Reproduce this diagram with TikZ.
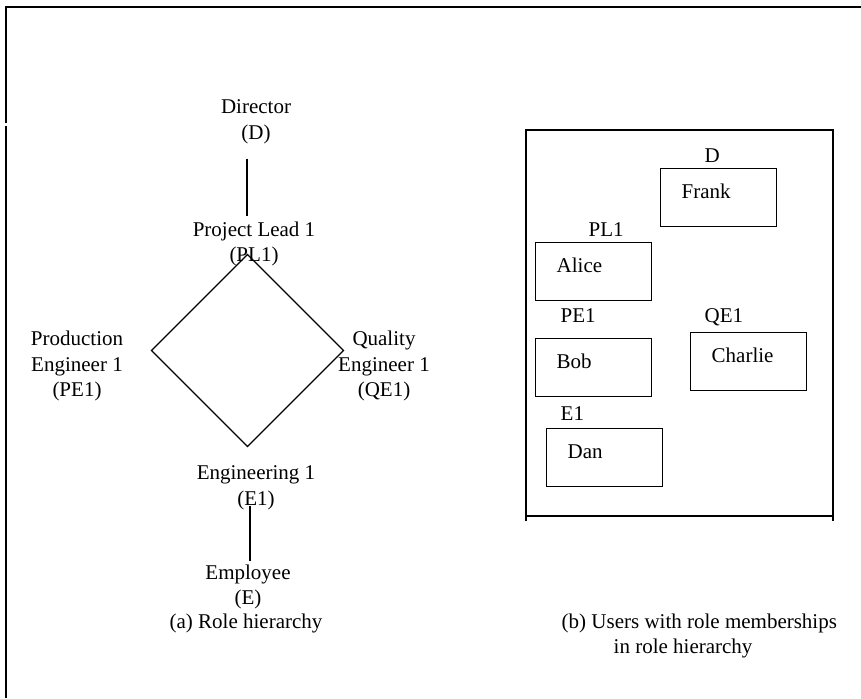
\documentclass[tikz,border=0pt]{standalone}
\usepackage{fontspec}
\setmainfont{Liberation Serif}
\tikzset{
  every node/.style={inner sep=0pt, align=center},
  ubox/.style={draw, line width=1.4pt, anchor=north west, inner xsep=21pt, inner ysep=0pt,
    text width=74pt, minimum height=58pt, text height=14pt, text depth=12pt, align=left},
  role/.style={anchor=base west}
}
\begin{document}
\begin{tikzpicture}[x=1pt, y=-1pt, line width=1.4pt, font=\fontsize{21pt}{25.5pt}\selectfont]
    \useasboundingbox (0,0) rectangle (861,698);
    % outer frame
    \draw[line width=1.8pt] (6,698) -- (6,126);
    \draw[line width=1.8pt] (6,123) -- (6,7) -- (861,7);

    % (a) role hierarchy
    \node (d) at (256,122) {Director\\(D)};
    \node (pl1) at (254,244) {Project Lead 1\\(PL1)};
    \node (pe1) at (77,366) {Production\\Engineer 1\\(PE1)};
    \node (qe1) at (384,366) {Quality\\Engineer 1\\(QE1)};
    \node (e1) at (256,488) {Engineering 1\\(E1)};
    \node (e) at (248,587) {Employee\\(E)};
    \node (capa) at (246,623) {(a) Role hierarchy};

    \draw ([xshift=-9pt,yshift=-14pt]d.south) -- ([xshift=-7pt,yshift=5pt]pl1.north);
    \begin{scope}[shift={(247.5,350.5)}]
        \foreach \i in {1,...,4}
            \coordinate (v\i) at (90*\i:96);
    \end{scope}
    \draw (v1)--(v2)--(v3)--(v4)--cycle;
    \draw ([xshift=-6pt,yshift=5pt]e1.south) -- ([xshift=2pt,yshift=3pt]e.north);

    % (b) users with role memberships
    \draw (526,521) -- (526,130) -- (833,130) -- (833,521);
    \draw (526,516) -- (833,516);
    \foreach \nm/\rl/\bx/\by/\lx/\ly in {Frank/D/660/168/704/162, Alice/PL1/535/242/588/236,
        Bob/PE1/535/338/560/322, Charlie/QE1/690/332/704/322, Dan/E1/546/428/560/420} {
        \node[ubox] (\nm) at (\bx,\by) {\nm};
        \node[role] (r\nm) at (\lx,\ly) {\rl};
    }
    \node[anchor=west, align=left] (capb) at (561,636) {(b) Users with role memberships\\\hspace*{52pt}in role hierarchy};
\end{tikzpicture}
\end{document}
